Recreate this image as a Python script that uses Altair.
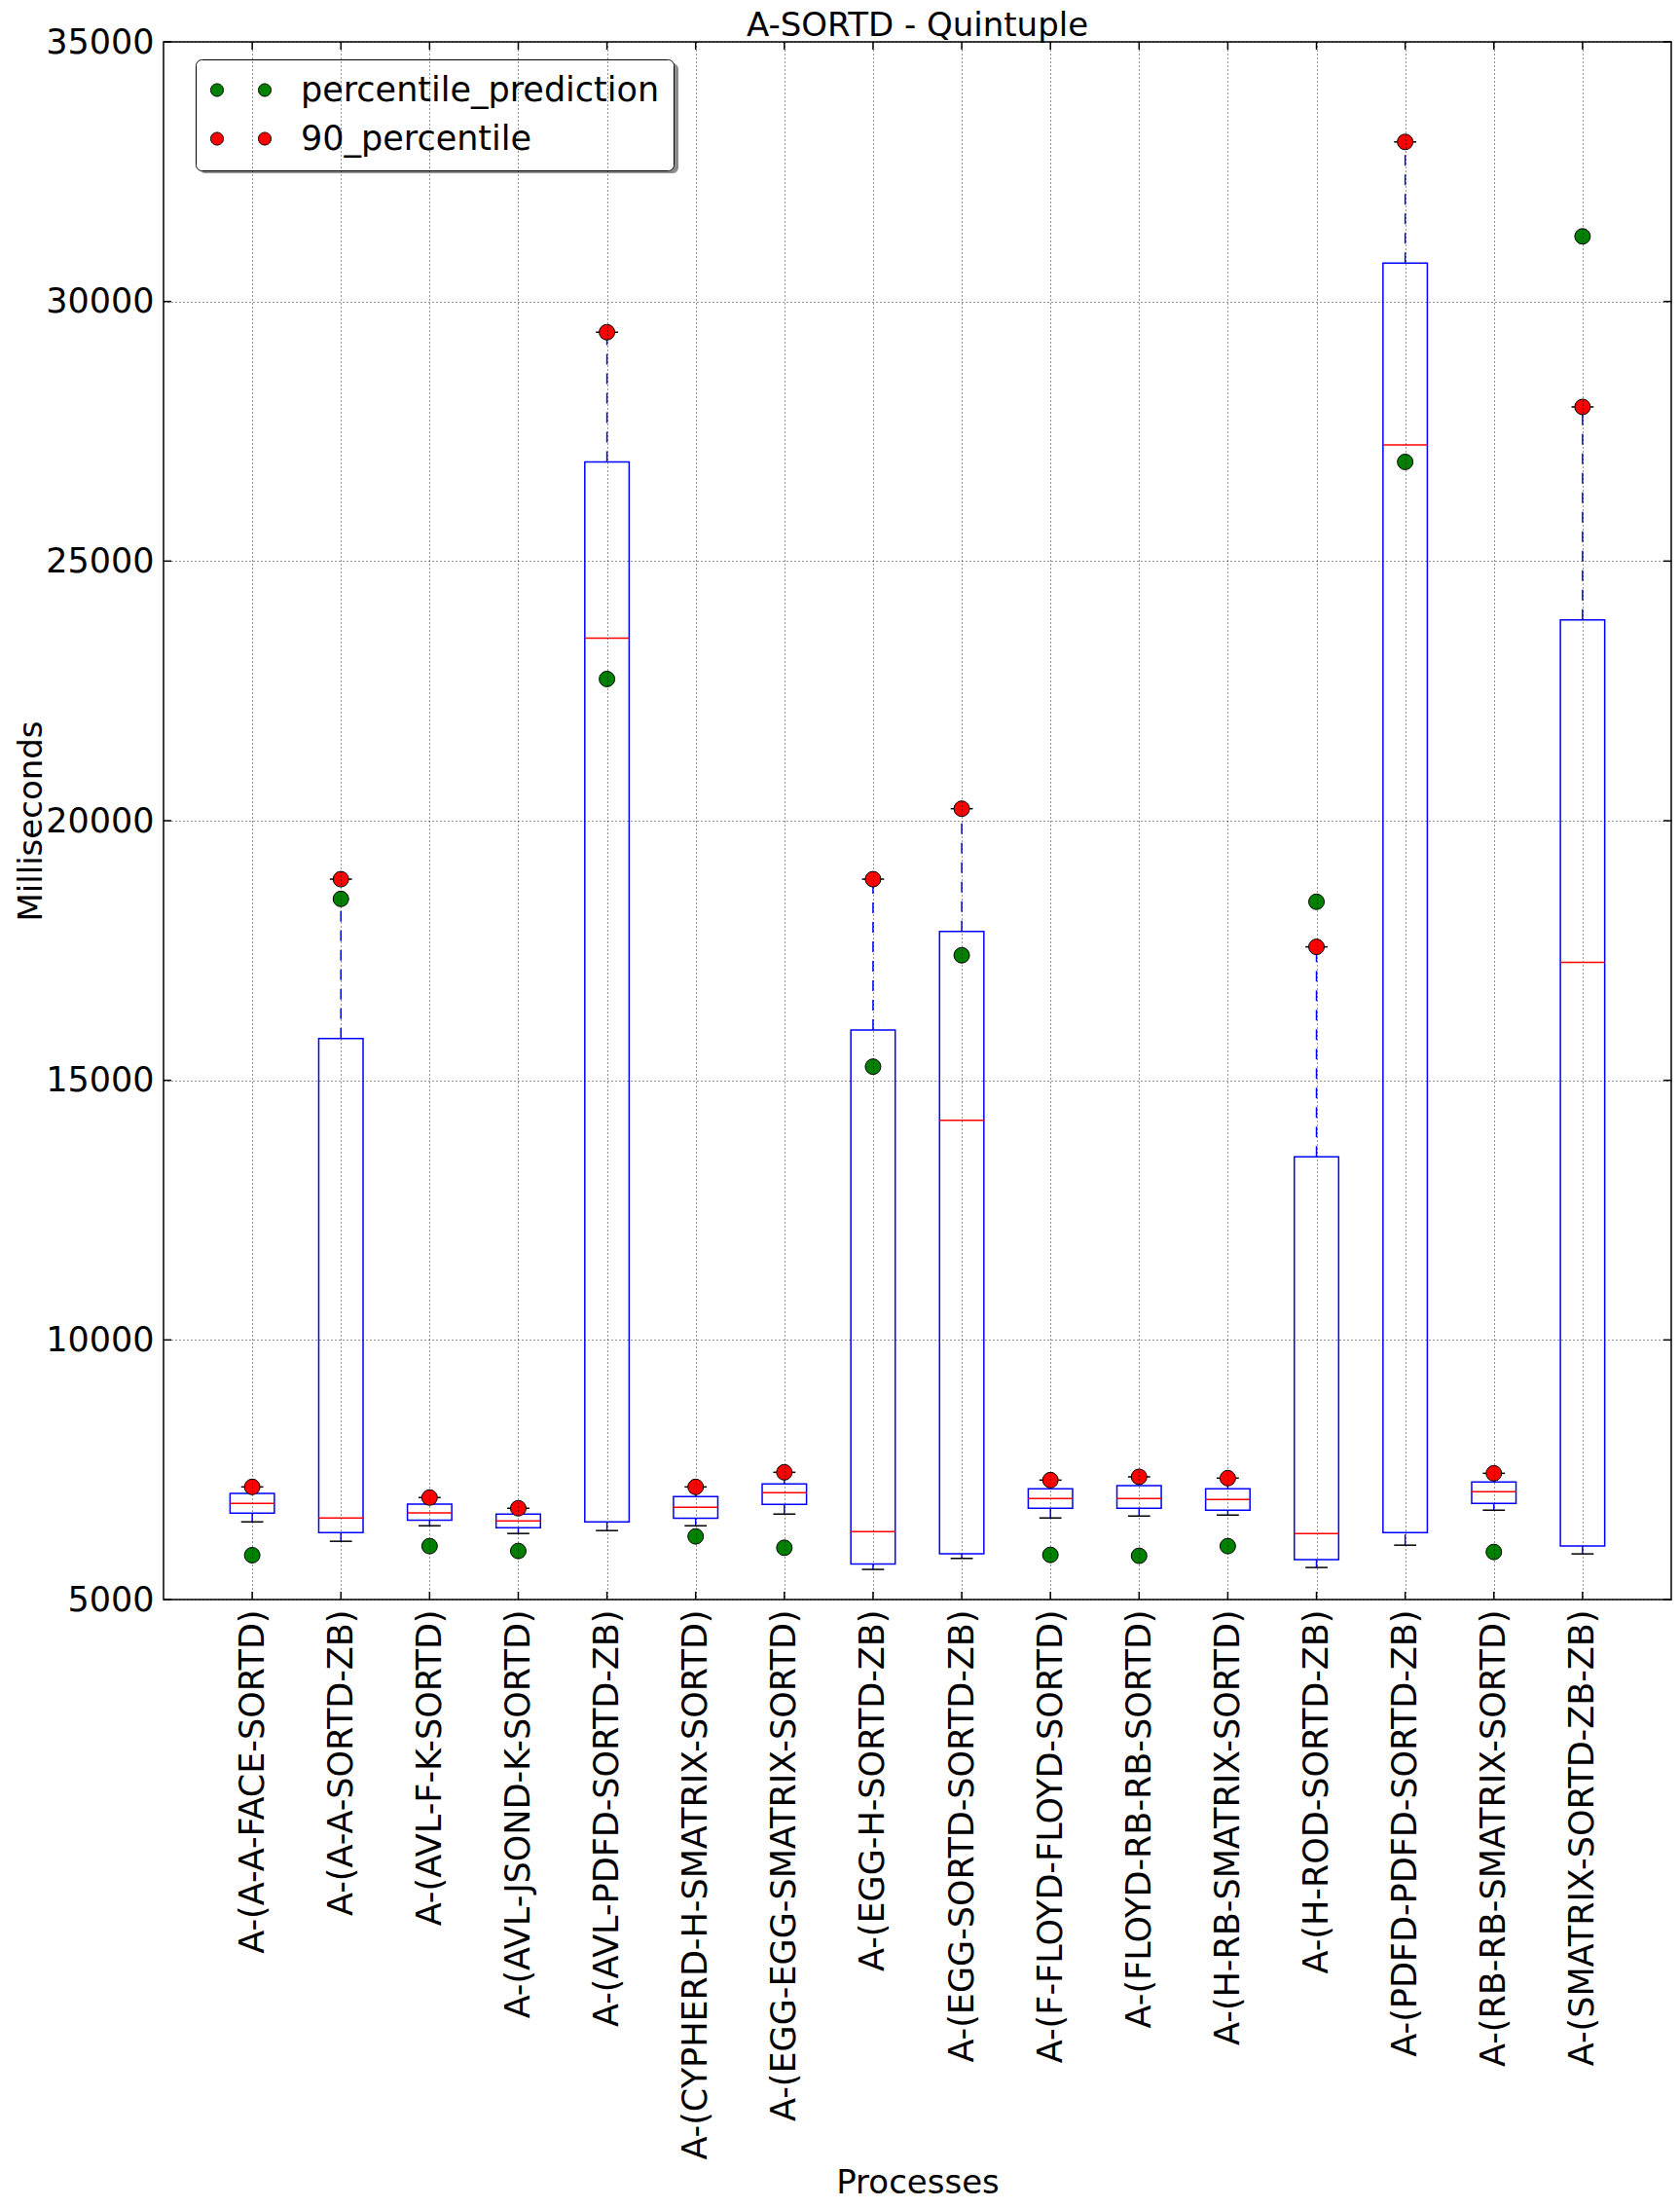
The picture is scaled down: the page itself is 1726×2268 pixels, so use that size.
import altair as alt
import pandas as pd
import json

# ---- data ----
categories = [
    "A-(A-A-FACE-SORTD)", "A-(A-A-SORTD-ZB)", "A-(AVL-F-K-SORTD)", "A-(AVL-JSOND-K-SORTD)",
    "A-(AVL-PDFD-SORTD-ZB)", "A-(CYPHERD-H-SMATRIX-SORTD)", "A-(EGG-EGG-SMATRIX-SORTD)",
    "A-(EGG-H-SORTD-ZB)", "A-(EGG-SORTD-SORTD-ZB)", "A-(F-FLOYD-FLOYD-SORTD)",
    "A-(FLOYD-RB-RB-SORTD)", "A-(H-RB-SMATRIX-SORTD)", "A-(H-ROD-SORTD-ZB)",
    "A-(PDFD-PDFD-SORTD-ZB)", "A-(RB-RB-SMATRIX-SORTD)", "A-(SMATRIX-SORTD-ZB-ZB)",
]
whisker_low = [6496, 6122, 6421, 6272, 6328, 6421, 6646, 5580, 5792, 6571, 6608, 6627, 5617, 6047, 6721, 5879]
q1 = [6665, 6290, 6527, 6384, 6496, 6565, 6833, 5686, 5879, 6758, 6758, 6721, 5767, 6290, 6852, 6029]
median = [6851, 6571, 6671, 6515, 23517, 6777, 7057, 6309, 14231, 6945, 6945, 6926, 6272, 27236, 7076, 17272]
q3 = [7045, 15806, 6839, 6646, 26910, 6982, 7226, 15969, 17869, 7132, 7194, 7132, 13525, 30738, 7263, 23869]
p90 = [7169, 18874, 6964, 6758, 29408, 7169, 7450, 18874, 20231, 7300, 7363, 7338, 17570, 33073, 7431, 27969]
prediction = [5854, 18494, 6029, 5935, 22729, 6216, 5997, 15263, 17408, 5860, 5842, 6029, 18439, 26910, 5916, 31254]
series_names = ["percentile_prediction", "90_percentile"]
series_colors = ["#008000", "#ff0000"]
y_ticks = [5000, 10000, 15000, 20000, 25000, 30000, 35000]

positions = list(range(1, len(categories) + 1))

box_df = pd.DataFrame({
    "cat": categories, "pos": positions, "low": whisker_low, "q1": q1,
    "med": median, "q3": q3, "p90": p90,
})
pts_df = pd.concat([
    pd.DataFrame({"pos": positions, "value": prediction, "series": series_names[0]}),
    pd.DataFrame({"pos": positions, "value": p90, "series": series_names[1]}),
], ignore_index=True)
xtick_df = pd.DataFrame({"pos": positions})
ytick_df = pd.DataFrame({"v": y_ticks})
one_row = pd.DataFrame({"k": [0]})

FONT = "DejaVu Sans"
FS = 34      # titles
LFS = 35     # tick / legend labels
TICK = 8
W, H = 1549, 1600

label_expr = "[" + ",".join(json.dumps(c) for c in categories) + "][datum.value - 1]"

x_scale = alt.Scale(domain=[0, len(categories) + 1], nice=False, zero=False)
y_scale = alt.Scale(domain=[5000, 35000], nice=False, zero=False)

x_axis = alt.Axis(
    values=positions, labelExpr=label_expr, labelAngle=270, labelAlign="right",
    labelBaseline="middle", labelFontSize=LFS, labelFont=FONT, labelColor="black",
    labelPadding=10, labelLimit=3000, labelOverlap=False, labelFlush=False,
    ticks=False, domain=False, grid=True, gridColor="black", gridDash=[1, 3],
    gridWidth=1, gridOpacity=0.85, title="Processes", titleFontSize=FS,
    titleFont=FONT, titleFontWeight="normal", titleColor="black",
    titleY=609, titleBaseline="alphabetic", zindex=1,
)
y_axis = alt.Axis(
    values=y_ticks, format="d", labelFontSize=LFS, labelFont=FONT, labelColor="black",
    labelPadding=10, labelFlush=False, labelOverlap=False, ticks=False, domain=False,
    grid=True, gridColor="black", gridDash=[1, 3], gridWidth=1, gridOpacity=0.85,
    title="Milliseconds", titleFontSize=FS, titleFont=FONT, titleFontWeight="normal",
    titleColor="black", titleX=-126, titleBaseline="alphabetic", zindex=1,
)

base = alt.Chart(box_df).transform_calculate(
    bl="datum.pos - 0.25", br="datum.pos + 0.25",
    cl="datum.pos - 0.125", cr="datum.pos + 0.125",
)

X = lambda f: alt.X(f"{f}:Q", scale=x_scale, axis=x_axis)
Y = lambda f: alt.Y(f"{f}:Q", scale=y_scale, axis=y_axis)

whisk_up = base.mark_rule(color="#0000ff", strokeWidth=1.5, strokeDash=[11, 9]).encode(
    x=X("pos"), y=Y("q3"), y2="p90:Q")
whisk_lo = base.mark_rule(color="#0000ff", strokeWidth=1.5, strokeDash=[11, 9]).encode(
    x=X("pos"), y=Y("low"), y2="q1:Q")
cap_up = base.mark_rule(color="black", strokeWidth=1.5).encode(
    x=X("cl"), x2="cr:Q", y=Y("p90"))
cap_lo = base.mark_rule(color="black", strokeWidth=1.5).encode(
    x=X("cl"), x2="cr:Q", y=Y("low"))
boxes = base.mark_rect(fillOpacity=0, stroke="#0000ff", strokeWidth=1.5).encode(
    x=X("bl"), x2="br:Q", y=Y("q1"), y2="q3:Q")
medians = base.mark_rule(color="#ff0000", strokeWidth=1.5).encode(
    x=X("bl"), x2="br:Q", y=Y("med"))

# inward tick marks on the frame (classic matplotlib style)
xt = alt.Chart(xtick_df)
ticks_bottom = xt.mark_rule(color="black", strokeWidth=1.5).encode(
    x=X("pos"), y=alt.value(H), y2=alt.value(H - TICK))
ticks_top = xt.mark_rule(color="black", strokeWidth=1.5).encode(
    x=X("pos"), y=alt.value(0), y2=alt.value(TICK))
yt = alt.Chart(ytick_df)
ticks_left = yt.mark_rule(color="black", strokeWidth=1.5).encode(
    y=Y("v"), x=alt.value(0), x2=alt.value(TICK))
ticks_right = yt.mark_rule(color="black", strokeWidth=1.5).encode(
    y=Y("v"), x=alt.value(W), x2=alt.value(W - TICK))

# drop shadow behind the legend box
shadow = alt.Chart(one_row).mark_rect(fill="#8c8c8c", cornerRadius=6).encode(
    x=alt.value(37), x2=alt.value(529), y=alt.value(22), y2=alt.value(135))

two_dots = ("M -4.43,0 A 0.93,0.93 0 1,0 -2.57,0 A 0.93,0.93 0 1,0 -4.43,0 Z "
            "M 2.57,0 A 0.93,0.93 0 1,0 4.43,0 A 0.93,0.93 0 1,0 2.57,0 Z")

points = alt.Chart(pts_df).mark_point(
    filled=True, shape="circle", size=256, stroke="black", strokeWidth=1, opacity=1
).encode(
    x=X("pos"), y=Y("value"),
    color=alt.Color(
        "series:N",
        scale=alt.Scale(domain=series_names, range=series_colors),
        legend=alt.Legend(
            title=None, orient="none", legendX=33, legendY=18,
            symbolType=two_dots, symbolSize=196, symbolStrokeColor="black",
            symbolStrokeWidth=1, symbolOpacity=1, symbolOffset=15,
            labelFontSize=LFS, labelFont=FONT, labelColor="black", labelOffset=44,
            labelLimit=2000, strokeColor="black", fillColor="white", cornerRadius=6,
            padding=14, rowPadding=14,
        ),
    ),
)

chart = alt.layer(
    shadow, boxes, whisk_up, whisk_lo, cap_up, cap_lo, medians, points,
    ticks_bottom, ticks_top, ticks_left, ticks_right,
).properties(
    width=W, height=H,
    title=alt.TitleParams("A-SORTD - Quintuple", fontSize=FS, font=FONT,
                          fontWeight="normal", color="black", offset=-18,
                          anchor="middle", frame="group"),
    padding={"left": 160, "top": 35, "right": 1, "bottom": 620},
    autosize=alt.AutoSizeParams(type="none"),
).configure_view(stroke="black", strokeWidth=1.5)

chart.save("out.html", embed_options={"renderer": "svg", "actions": False})
